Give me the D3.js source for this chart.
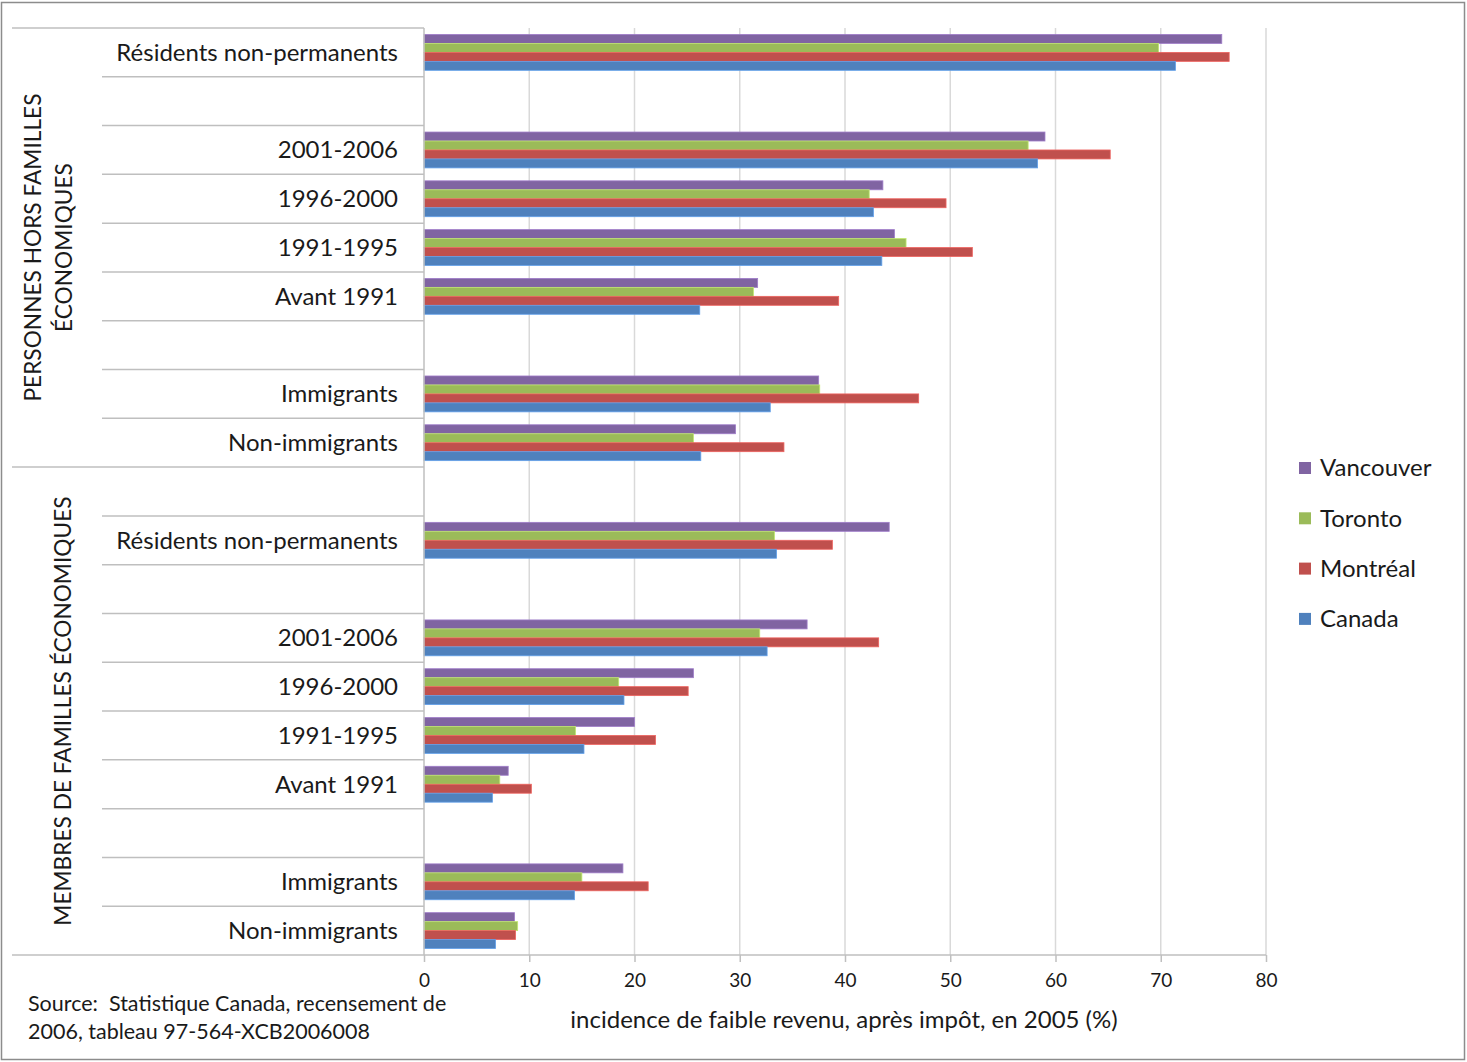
<!DOCTYPE html>
<html>
<head>
<meta charset="utf-8">
<script src="https://cdn.jsdelivr.net/npm/d3@7"></script>
<style>
  body { margin: 0; background: #fff; }
  svg { font-family: Lato, "Open Sans", sans-serif; }
</style>
</head>
<body>
<svg></svg>
<script>
var width = 1467,
    height = 1062;

// rows from top to bottom; "" = empty spacer row
var categories = [
    "Résidents non-permanents", "", "2001-2006", "1996-2000", "1991-1995", "Avant 1991", "", "Immigrants", "Non-immigrants",
    "", "Résidents non-permanents", "", "2001-2006", "1996-2000", "1991-1995", "Avant 1991", "", "Immigrants", "Non-immigrants"
];

var seriesNames = ["Vancouver", "Toronto", "Montréal", "Canada"];
var seriesColors = ["#8064A2", "#9BBB59", "#C0504D", "#4F81BD"];

var vancouver = [75.8, null, 59.0, 43.6, 44.7, 31.7, null, 37.5, 29.6, null, 44.2, null, 36.4, 25.6, 20.0, 8.0, null, 18.9, 8.6];
var toronto   = [69.8, null, 57.4, 42.3, 45.8, 31.3, null, 37.6, 25.6, null, 33.3, null, 31.9, 18.5, 14.4, 7.2, null, 15.0, 8.9];
var montreal  = [76.5, null, 65.2, 49.6, 52.1, 39.4, null, 47.0, 34.2, null, 38.8, null, 43.2, 25.1, 22.0, 10.2, null, 21.3, 8.7];
var canada    = [71.4, null, 58.3, 42.7, 43.5, 26.2, null, 32.9, 26.3, null, 33.5, null, 32.6, 19.0, 15.2, 6.5, null, 14.3, 6.8];

var groups = [
    { lines: ["PERSONNES HORS FAMILLES", "ÉCONOMIQUES"], from: 0, to: 9 },
    { lines: ["MEMBRES DE FAMILLES ÉCONOMIQUES"], from: 9, to: 19 }
];

var xTicks = [0, 10, 20, 30, 40, 50, 60, 70, 80];

var series = [vancouver, toronto, montreal, canada];

var plot = { left: 424, right: 1266, top: 28, bottom: 955 };

var svg = d3.select("svg")
    .attr("width", width)
    .attr("height", height);

// outer frame
svg.append("rect")
    .attr("x", 1.5).attr("y", 2.5)
    .attr("width", width - 4).attr("height", height - 5)
    .attr("fill", "#fff")
    .attr("stroke", "#8c8c8c")
    .attr("stroke-width", 1.5);

var x = d3.scaleLinear()
    .domain([0, 80])
    .range([plot.left, plot.right]);

var y0 = d3.scaleBand()
    .domain(d3.range(categories.length))
    .range([plot.top, plot.bottom]);

var y1 = d3.scaleBand()
    .domain(d3.range(seriesNames.length))
    .range([0, y0.bandwidth()])
    .paddingOuter(0.72);

// vertical gridlines
svg.append("g")
    .selectAll("line")
    .data(xTicks.slice(1))
    .join("line")
    .attr("x1", d => x(d)).attr("x2", d => x(d))
    .attr("y1", plot.top).attr("y2", plot.bottom)
    .attr("stroke", "#d9d9d9")
    .attr("stroke-width", 1.5);

// bars
var rowG = svg.append("g")
    .selectAll("g")
    .data(categories.map((c, i) => i))
    .join("g")
    .attr("transform", i => "translate(0," + y0(i) + ")");

rowG.selectAll("rect")
    .data(i => series.map((s, k) => ({ k: k, v: s[i] })).filter(d => d.v != null))
    .join("rect")
    .attr("x", x(0))
    .attr("y", d => y1(d.k))
    .attr("width", d => x(d.v) - x(0))
    .attr("height", y1.bandwidth())
    .attr("fill", d => seriesColors[d.k])
    .attr("stroke", d => d3.color(seriesColors[d.k]).brighter(0.6))
    .attr("stroke-width", 0.8);

// row separators in the category area
var boundaries = d3.range(categories.length + 1);
var groupEdges = [0, 9, 19];
svg.append("g")
    .selectAll("line")
    .data(boundaries)
    .join("line")
    .attr("x1", d => groupEdges.includes(d) ? 12 : 102)
    .attr("x2", d => d == categories.length ? plot.right : plot.left)
    .attr("y1", d => d == categories.length ? plot.bottom : y0(d))
    .attr("y2", d => d == categories.length ? plot.bottom : y0(d))
    .attr("stroke", "#bfbfbf")
    .attr("stroke-width", 1.5);

// category axis line
svg.append("line")
    .attr("x1", plot.left).attr("x2", plot.left)
    .attr("y1", plot.top).attr("y2", plot.bottom)
    .attr("stroke", "#bfbfbf")
    .attr("stroke-width", 1.5);

// category labels
svg.append("g")
    .selectAll("text")
    .data(categories.map((c, i) => ({ c: c, i: i })).filter(d => d.c))
    .join("text")
    .attr("x", 398)
    .attr("y", d => y0(d.i) + y0.bandwidth() / 2)
    .attr("dy", "0.35em")
    .attr("text-anchor", "end")
    .attr("font-size", 24)
    .attr("fill", "#1a1a1a")
    .text(d => d.c);

// group labels (rotated)
groups.forEach(g => {
    var cy = (y0(g.from) + (g.to == categories.length ? plot.bottom : y0(g.to))) / 2;
    var n = g.lines.length;
    g.lines.forEach((line, j) => {
        var cx = n == 1 ? 63 : 33 + j * 31;
        svg.append("text")
            .attr("transform", "translate(" + [cx, cy] + ") rotate(-90)")
            .attr("text-anchor", "middle")
            .attr("dy", "0.35em")
            .attr("font-size", 22.7)
            .attr("fill", "#1a1a1a")
            .text(line);
    });
});

// x axis
var xAxis = svg.append("g")
    .attr("transform", "translate(0," + plot.bottom + ")")
    .call(d3.axisBottom(x).tickValues(xTicks).tickSize(7).tickPadding(12));
xAxis.select(".domain").remove();
xAxis.selectAll(".tick line").attr("stroke", "#bfbfbf").attr("stroke-width", 1.5);
xAxis.selectAll(".tick text")
    .attr("font-size", 19)
    .attr("font-family", "Lato, sans-serif")
    .attr("fill", "#1a1a1a");

svg.append("text")
    .attr("x", 844)
    .attr("y", 1028)
    .attr("text-anchor", "middle")
    .attr("font-size", 24)
    .attr("fill", "#1a1a1a")
    .text("incidence de faible revenu, après impôt, en 2005 (%)");

// source note
svg.append("text")
    .attr("x", 28).attr("y", 1011)
    .attr("font-size", 21.5)
    .attr("fill", "#1a1a1a")
    .text("Source:\u00a0 Statistique Canada, recensement de");
svg.append("text")
    .attr("x", 28).attr("y", 1039)
    .attr("font-size", 21.5)
    .attr("fill", "#1a1a1a")
    .text("2006, tableau 97-564-XCB2006008");

// legend
var legend = svg.append("g")
    .selectAll("g")
    .data(seriesNames)
    .join("g")
    .attr("transform", (d, i) => "translate(1299," + (468 + i * 50.3) + ")");

legend.append("rect")
    .attr("x", 0).attr("y", -6)
    .attr("width", 12).attr("height", 12)
    .attr("fill", (d, i) => seriesColors[i]);

legend.append("text")
    .attr("x", 21)
    .attr("dy", "0.35em")
    .attr("font-size", 24)
    .attr("fill", "#1a1a1a")
    .text(d => d);
</script>
</body>
</html>
